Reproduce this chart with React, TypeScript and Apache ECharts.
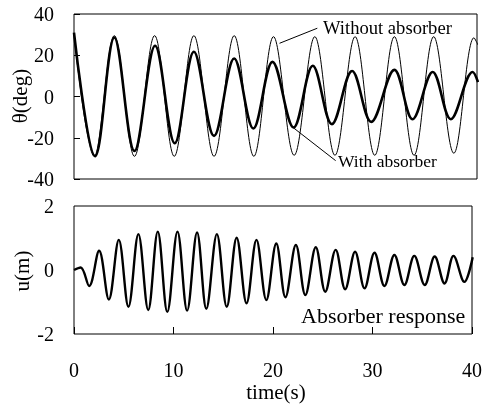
import React, { useEffect, useRef } from "react";
import * as echarts from "echarts";

// time (s), theta (deg) — pendulum response without absorber (read at extrema)
const withoutAbsorber: [number, number][] = [
  [0, 30], [2.0, -29], [4.0, 29.5], [6.0, -29], [8.0, 29.5], [9.95, -29],
  [11.9, 29.5], [13.9, -29], [15.9, 29.5], [17.85, -29], [19.8, 29],
  [21.85, -28.5], [23.9, 29], [25.9, -28.5], [27.9, 29], [29.85, -28.5],
  [31.8, 29], [33.75, -28.5], [35.7, 29], [37.7, -27.5], [39.7, 28.5], [40.1, 25],
];

// time (s), theta (deg) — with absorber
const withAbsorber: [number, number][] = [
  [0, 31], [2.1, -29], [4.0, 28.6], [6.0, -26.4], [8.05, 24.6], [10.0, -22.7],
  [11.9, 21.7], [13.9, -19.1], [15.9, 18.4], [17.8, -15.5], [19.7, 16.8],
  [21.8, -15], [23.7, 14.9], [25.6, -13.4], [27.6, 12.4], [29.5, -12.3],
  [31.8, 12.9], [33.6, -11], [35.6, 11.9], [37.4, -11], [39.57, 11.9], [40.1, 7],
];

// time (s), u (m) — absorber response
const absorberResponse: [number, number][] = [
  [0, 0], [0.67, 0.08], [1.52, -0.5], [2.52, 0.6], [3.5, -0.92], [4.5, 0.94],
  [5.47, -1.15], [6.47, 1.12], [7.46, -1.25], [8.42, 1.2], [9.38, -1.31],
  [10.4, 1.2], [11.37, -1.27], [12.37, 1.17], [13.3, -1.21], [14.36, 1.12],
  [15.35, -1.15], [16.35, 1.01], [17.34, -1.04], [18.34, 0.94], [19.33, -0.94],
  [20.33, 0.83], [21.25, -0.85], [22.3, 0.78], [23.25, -0.78], [24.3, 0.71],
  [25.25, -0.68], [26.3, 0.63], [27.25, -0.6], [28.25, 0.57], [29.2, -0.57],
  [30.2, 0.54], [31.2, -0.5], [32.2, 0.47], [33.2, -0.47], [34.2, 0.44],
  [35.25, -0.47], [36.25, 0.42], [37.24, -0.42], [38.14, 0.44], [39.23, -0.37],
  [40.07, 0.4],
];

// leader lines for the annotations (data coordinates of the top plot)
const leaderWithout: [number, number][] = [[20.4, 25.8], [24.15, 33.1]];
const leaderWith: [number, number][] = [[21.76, -15.1], [25.97, -31.1]];

const timeRange = [0, 40];
const thetaRange = [-40, 40];
const uRange = [-2, 2];

export default function App() {
  const ref = useRef<HTMLDivElement>(null);
  useEffect(() => {
    const chart = echarts.init(ref.current!, null, { renderer: "svg" });
    const font = "Liberation Serif";
    const labelStyle = { color: "#000", fontSize: 20, fontFamily: font };
    const hiddenLine = { show: false, onZero: false };
    chart.setOption({
      animation: false,
      textStyle: { fontFamily: font },
      grid: [
        { left: 74, top: 14, width: 403, height: 165, show: true, borderColor: "#000", borderWidth: 1 },
        { left: 74, top: 206, width: 403, height: 128, show: true, borderColor: "#000", borderWidth: 1 },
      ],
      xAxis: [
        {
          type: "value", gridIndex: 0, position: "bottom", min: timeRange[0], max: timeRange[1], interval: 10,
          axisLine: hiddenLine, axisTick: { show: false }, axisLabel: { show: false }, splitLine: { show: false },
        },
        {
          type: "value", gridIndex: 1, position: "bottom", min: timeRange[0], max: timeRange[1], interval: 10,
          axisLine: hiddenLine,
          axisTick: { show: true, inside: true, length: 7, lineStyle: { color: "#000", width: 1 } },
          axisLabel: { ...labelStyle, margin: 27, lineHeight: 17 },
          splitLine: { show: false },
        },
      ],
      yAxis: [
        {
          type: "value", gridIndex: 0, position: "left", min: thetaRange[0], max: thetaRange[1], interval: 20,
          axisLine: hiddenLine,
          axisTick: { show: true, inside: true, length: 6, lineStyle: { color: "#000", width: 1 } },
          axisLabel: { ...labelStyle, margin: 20 },
          splitLine: { show: false },
        },
        {
          type: "value", gridIndex: 1, position: "left", min: uRange[0], max: uRange[1], interval: 2,
          axisLine: hiddenLine, axisTick: { show: false },
          axisLabel: { ...labelStyle, margin: 20 },
          splitLine: { show: false },
        },
      ],
      series: [
        {
          type: "line", xAxisIndex: 0, yAxisIndex: 0, data: withoutAbsorber,
          smooth: 0.36, symbol: "none", lineStyle: { color: "#000", width: 1 },
          markLine: {
            silent: true, symbol: "none", label: { show: false },
            lineStyle: { color: "#000", width: 1, type: "solid" },
            data: [
              [{ coord: leaderWithout[0] }, { coord: leaderWithout[1] }],
              [{ coord: leaderWith[0] }, { coord: leaderWith[1] }],
            ],
          },
        },
        {
          type: "line", xAxisIndex: 0, yAxisIndex: 0, data: withAbsorber,
          smooth: 0.36, symbol: "none", lineStyle: { color: "#000", width: 2.6 },
        },
        {
          type: "line", xAxisIndex: 1, yAxisIndex: 1, data: absorberResponse,
          smooth: 0.36, symbol: "none", lineStyle: { color: "#000", width: 2.4 },
        },
      ],
      graphic: [
        { type: "text", x: 323, y: 27, style: { text: "Without absorber", fontSize: 18.6, fontFamily: font, fill: "#000", align: "left", verticalAlign: "middle" } },
        { type: "text", x: 338, y: 161, style: { text: "With absorber", fontSize: 17.5, fontFamily: font, fill: "#000", align: "left", verticalAlign: "middle" } },
        { type: "text", x: 301, y: 315, style: { text: "Absorber response", fontSize: 22, fontFamily: font, fill: "#000", align: "left", verticalAlign: "middle" } },
        { type: "text", x: 276, y: 392, style: { text: "time(s)", fontSize: 21, lineHeight: 19, fontFamily: font, fill: "#000", align: "center", verticalAlign: "middle" } },
        { type: "text", x: 20, y: 96, rotation: Math.PI / 2, style: { text: "θ(deg)", fontSize: 21, fontFamily: font, fill: "#000", align: "center", verticalAlign: "middle" } },
        { type: "text", x: 22, y: 271, rotation: Math.PI / 2, style: { text: "u(m)", fontSize: 21, fontFamily: font, fill: "#000", align: "center", verticalAlign: "middle" } },
      ],
    });
    return () => chart.dispose();
  }, []);
  return <div ref={ref} style={{ position: "fixed", left: 0, top: 0, width: 485, height: 405 }} />;
}
